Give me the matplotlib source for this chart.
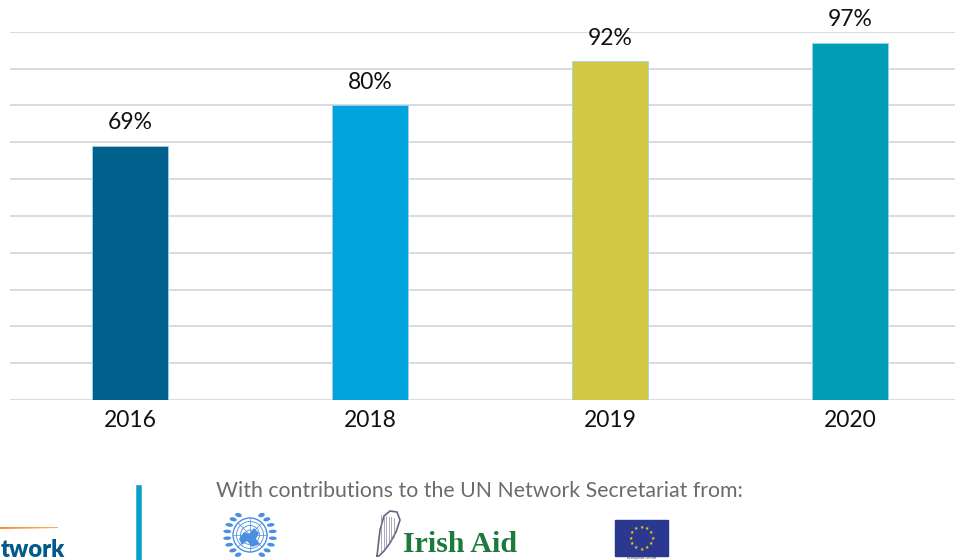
import numpy as np
import matplotlib
matplotlib.use("Agg")
import matplotlib.pyplot as plt
from matplotlib.patches import Rectangle, Ellipse, Polygon
from matplotlib.lines import Line2D

years = ["2016", "2018", "2019", "2020"]
values = [69, 80, 92, 97]
colors = ["#02618C", "#00A3DC", "#D3C843", "#009EB5"]
footer_text = "With contributions to the UN Network Secretariat from:"

W, H = 955, 560
fig = plt.figure(figsize=(W / 100, H / 100), dpi=100)
plt.rcParams['font.family'] = ['Lato', 'DejaVu Sans']

def fx(px):
    return px / W

def fy(py):
    return 1 - py / H

ax = fig.add_axes([fx(10), fy(400), fx(955) - fx(10), fy(31.7) - fy(400)])
x = np.arange(len(years))
ax.bar(x, values, width=0.32, color=colors, edgecolor="#9fd3ea", linewidth=0.6, zorder=3)
ax.set_xlim(-0.5, 3.4375)
ax.set_ylim(0, 100)
ax.set_yticks(np.arange(0, 101, 10))
ax.yaxis.grid(True, color="#D9D9E1", linewidth=1.4, zorder=0)
ax.set_axisbelow(True)
for s in ax.spines.values():
    s.set_visible(False)
ax.tick_params(axis='y', left=False, labelleft=False)
ax.tick_params(axis='x', length=0, pad=7.5, labelsize=16.5, labelcolor="#111111")
ax.set_xticks(x)
ax.set_xticklabels(years)
for xi, v in zip(x, values):
    ax.annotate(f"{v}%", (xi, v), xytext=(0, 9), textcoords="offset points",
                ha="center", va="bottom", fontsize=16.5, color="#111111", clip_on=False)

# footer
fig.text(fx(216), fy(491), footer_text, ha="left", va="center", fontsize=15.3, color="#6b6b6b")
# vertical divider
fig.add_artist(Line2D([fx(138.5), fx(138.5)], [fy(488), fy(560)], color="#0AA0C8", linewidth=4))
# clipped "Network" logo
fig.text(fx(0.5), fy(557), "twork", ha="left", va="baseline", fontsize=17, fontweight="heavy", color="#005A8B")
fig.add_artist(Polygon([(fx(0), fy(527)), (fx(58), fy(527.3)), (fx(58), fy(528)), (fx(0), fy(529))],
                       closed=True, color="#F0922A", lw=0))

# UN emblem
cx, cy = 250, 535
blue = "#4A8FE0"
fig.add_artist(Ellipse((fx(cx), fy(cy)), 2 * 17 / W, 2 * 17 / H, facecolor="white", edgecolor=blue, linewidth=1.0))
for rr in [5, 9.5, 13.5]:
    fig.add_artist(Ellipse((fx(cx), fy(cy)), 2 * rr / W, 2 * rr / H, fill=False, edgecolor=blue, linewidth=0.6))
for ang in np.linspace(0, np.pi, 4, endpoint=False):
    dx, dy = 17 * np.cos(ang), 17 * np.sin(ang)
    fig.add_artist(Line2D([fx(cx - dx), fx(cx + dx)], [fy(cy - dy), fy(cy + dy)], color=blue, linewidth=0.5))
# continents
land = [(cx - 11, cy + 4), (cx - 6, cy - 3), (cx - 1, cy - 1), (cx + 4, cy - 7), (cx + 9, cy - 2),
        (cx + 6, cy + 4), (cx + 10, cy + 9), (cx + 2, cy + 12), (cx - 3, cy + 6), (cx - 8, cy + 10)]
fig.add_artist(Polygon([(fx(a), fy(b)) for a, b in land], closed=True, color=blue, lw=0))
# wreath
for side in [-1, 1]:
    for k in range(8):
        rx = 23
        px = cx + side * rx * np.sin(np.radians(30 + k * 17))
        py = cy - rx * np.cos(np.radians(30 + k * 17))
        ang = side * (30 + k * 17)
        fig.add_artist(Ellipse((fx(px), fy(py)), 8 / W, 3.5 / H, angle=90 - ang, color=blue, lw=0))

# harp
hx = [377, 380, 384, 390, 397, 400, 396, 390, 384, 379, 377]
hy = [556, 530, 516, 511, 512, 520, 532, 543, 551, 556, 556]
fig.add_artist(Line2D([fx(v) for v in hx], [fy(v) for v in hy], color="#6a6280", linewidth=1.2))
for k in range(6):
    xx = 381 + k * 2.6
    fig.add_artist(Line2D([fx(xx), fx(xx)], [fy(552 - k * 3), fy(515 + k * 0.5)], color="#8a84a0", linewidth=0.5))
fig.text(fx(403), fy(552), "Irish Aid", ha="left", va="baseline", fontsize=21.5, fontweight="bold",
         family=["Liberation Serif"], color="#1C7A3A")

# EU flag
fig.add_artist(Rectangle((fx(615), fy(556)), fx(668) - fx(615), fy(520) - fy(556), color="#2B3890"))
for k in range(12):
    a = 2 * np.pi * k / 12
    fig.text(fx(641.5 + 11 * np.cos(a)), fy(538 + 11 * np.sin(a)), "★", fontsize=3.5, color="#F5D30A",
             ha="center", va="center", family=["DejaVu Sans"])
fig.text(fx(641.5), fy(559.5), "European Union", fontsize=3, color="#444444", ha="center", va="bottom")

fig.savefig("out.png", dpi=100)
